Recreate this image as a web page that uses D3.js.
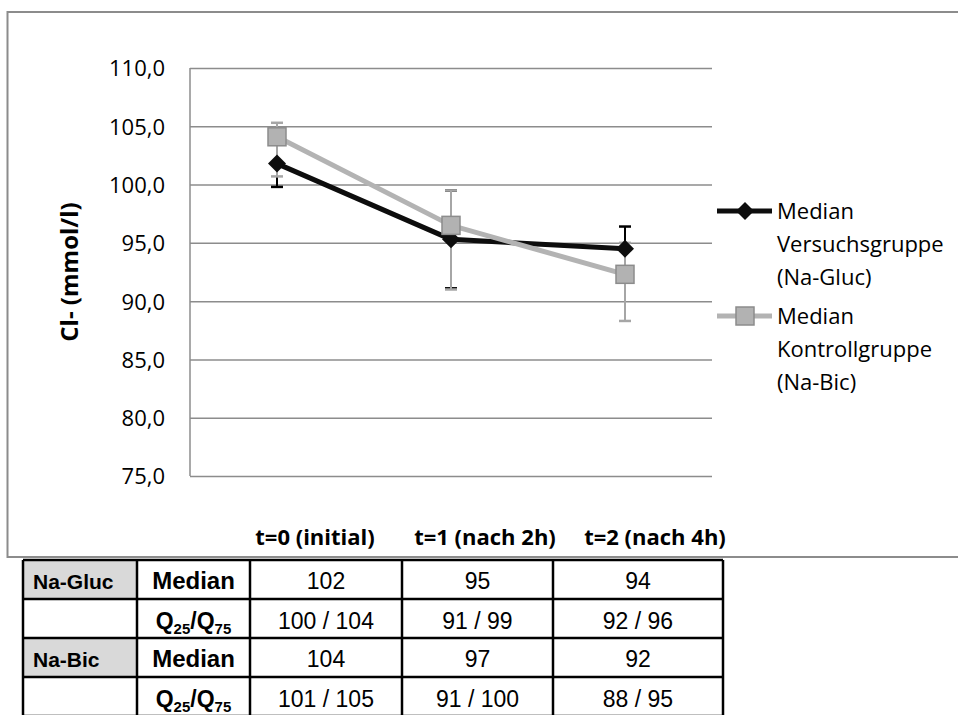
<!DOCTYPE html>
<html lang="de">
<head>
<meta charset="UTF-8">
<title>Cl- (mmol/l)</title>
<style>
  body { margin: 0; background: #fff; }
  svg { display: block; }
  .tick text { font-family: "Open Sans", sans-serif; font-size: 22px; fill: #000; }
  .lbl { font-family: "Open Sans", sans-serif; font-size: 22px; fill: #000; }
  .cell { font-family: "Liberation Sans", Arial, sans-serif; fill: #000; }
</style>
</head>
<body>
<svg width="958" height="715"></svg>
<script src="https://d3js.org/d3.v7.min.js"></script>
<script>
// chart values
const categories = ["t=0 (initial)", "t=1 (nach 2h)", "t=2 (nach 4h)"];
const glucMedian = [101.8, 95.3, 94.5];
const glucQ25 = [99.8, 91.1, 92.0];
const glucQ75 = [104.0, 99.5, 96.4];
const bicMedian = [104.1, 96.5, 92.3];
const bicQ25 = [100.7, 91.0, 88.3];
const bicQ75 = [105.3, 99.5, 95.0];
const yTicks = [75, 80, 85, 90, 95, 100, 105, 110];
const legendLabels = [
  ["Median", "Versuchsgruppe", "(Na-Gluc)"],
  ["Median", "Kontrollgruppe", "(Na-Bic)"]
];

// table values
const tableGroups = ["Na-Gluc", "Na-Bic"];
const tableMedian = [["102", "95", "94"], ["104", "97", "92"]];
const tableQ = [["100 / 104", "91 / 99", "92 / 96"], ["101 / 105", "91 / 100", "88 / 95"]];

const svg = d3.select("svg");
const locale = d3.formatLocale({decimal: ",", thousands: ".", grouping: [3], currency: ["", "€"]});
const fmt = locale.format(".1f");

// outer chart frame (right edge runs off the page)
svg.append("rect")
  .attr("x", 7.5).attr("y", 12)
  .attr("width", 1000).attr("height", 545)
  .attr("fill", "none").attr("stroke", "#8c8c8c").attr("stroke-width", 2);

const plot = {left: 190, right: 712, top: 68, bottom: 476};
const x = d3.scaleBand().domain(categories).range([plot.left, plot.right]);
const y = d3.scaleLinear().domain([75, 110]).range([plot.bottom, plot.top]);
const cx = d => x(d) + x.bandwidth() / 2;

// gridlines + y labels
const yAxis = svg.append("g")
  .attr("transform", `translate(${plot.left},0)`)
  .call(d3.axisLeft(y).tickValues(yTicks).tickFormat(fmt)
        .tickSize(-(plot.right - plot.left)).tickPadding(25));
yAxis.select(".domain").remove();
yAxis.selectAll(".tick line").attr("stroke", "#8c8c8c").attr("stroke-width", 1.5);
yAxis.selectAll(".tick text").attr("dy", "0.36em");

// left axis line
svg.append("line")
  .attr("x1", plot.left).attr("x2", plot.left)
  .attr("y1", plot.top).attr("y2", plot.bottom)
  .attr("stroke", "#8c8c8c").attr("stroke-width", 1.5);

// y title
svg.append("text").attr("class", "lbl")
  .attr("transform", `translate(78,${(plot.top + plot.bottom) / 2}) rotate(-90)`)
  .attr("text-anchor", "middle")
  .style("font-weight", "bold").style("font-size", "24px")
  .text("Cl- (mmol/l)");

// x labels (sit in their own row below the plot)
const xl = d3.scaleBand().domain(categories).range([230, 740]);
svg.append("g").selectAll("text")
  .data(categories).join("text")
  .attr("class", "lbl")
  .attr("x", d => xl(d) + xl.bandwidth() / 2)
  .attr("y", 545)
  .attr("text-anchor", "middle")
  .style("font-weight", "bold")
  .text(d => d);

const series = [
  {med: glucMedian, lo: glucQ25, hi: glucQ75, line: "#0d0d0d", bar: "#000", shape: "diamond"},
  {med: bicMedian, lo: bicQ25, hi: bicQ75, line: "#b3b3b3", bar: "#a6a6a6", shape: "square"}
];

// error bars first
series.forEach(s => {
  const g = svg.append("g").attr("stroke", s.bar).attr("stroke-width", 2);
  categories.forEach((c, i) => {
    g.append("line").attr("x1", cx(c)).attr("x2", cx(c)).attr("y1", y(s.lo[i])).attr("y2", y(s.hi[i]));
    [s.lo[i], s.hi[i]].forEach(v => {
      g.append("line").attr("x1", cx(c) - 6).attr("x2", cx(c) + 6).attr("y1", y(v)).attr("y2", y(v)).attr("stroke-width", 2.5);
    });
  });
});

function marker(g, shape, px, py) {
  if (shape === "diamond") {
    g.append("path")
      .attr("d", `M${px},${py - 9}L${px + 9},${py}L${px},${py + 9}L${px - 9},${py}Z`)
      .attr("fill", "#0d0d0d");
  } else {
    g.append("rect")
      .attr("x", px - 9).attr("y", py - 9).attr("width", 18).attr("height", 18)
      .attr("fill", "#b2b2b2").attr("stroke", "#8c8c8c").attr("stroke-width", 1.5);
  }
}

const line = d3.line().x((d, i) => cx(categories[i])).y(d => y(d));
series.forEach(s => {
  const g = svg.append("g");
  g.append("path").datum(s.med)
    .attr("d", line)
    .attr("fill", "none").attr("stroke", s.line).attr("stroke-width", 5)
    .attr("stroke-linejoin", "round");
  s.med.forEach((v, i) => marker(g, s.shape, cx(categories[i]), y(v)));
});

// legend
const legendY = [211, 316];
series.forEach((s, k) => {
  const g = svg.append("g");
  g.append("line").attr("x1", 717).attr("x2", 772).attr("y1", legendY[k]).attr("y2", legendY[k])
    .attr("stroke", s.line).attr("stroke-width", 5);
  marker(g, s.shape, 745, legendY[k]);
  g.append("text").attr("class", "lbl")
    .attr("x", 777).attr("y", legendY[k])
    .selectAll("tspan").data(legendLabels[k]).join("tspan")
    .attr("x", 777)
    .attr("dy", (d, i) => i === 0 ? "0.36em" : "33px")
    .text(d => d);
});

// data table
const colX = [23, 137, 250, 402, 553, 723];
const rowY = [560, 599, 638, 677, 716];
const tbl = svg.append("g");
[0, 2].forEach(r => {
  tbl.append("rect").attr("x", colX[0]).attr("y", rowY[r]).attr("width", colX[1] - colX[0])
    .attr("height", rowY[r + 1] - rowY[r]).attr("fill", "#d9d9d9");
});
rowY.forEach(yy => tbl.append("line").attr("x1", colX[0]).attr("x2", colX[5]).attr("y1", yy).attr("y2", yy)
  .attr("stroke", "#000").attr("stroke-width", 2.5));
colX.forEach(xx => tbl.append("line").attr("x1", xx).attr("x2", xx).attr("y1", rowY[0]).attr("y2", rowY[4])
  .attr("stroke", "#000").attr("stroke-width", 2.5));

const rowMid = r => (rowY[r] + rowY[r + 1]) / 2;
const colMid = c => (colX[c] + colX[c + 1]) / 2;
tableGroups.forEach((grp, k) => {
  const r0 = k * 2, r1 = k * 2 + 1;
  tbl.append("text").attr("class", "cell")
    .attr("x", colX[0] + 10).attr("y", rowMid(r0) + 9)
    .style("font-size", "21px").style("font-weight", "bold").text(grp);
  tbl.append("text").attr("class", "cell")
    .attr("x", colMid(1)).attr("y", rowMid(r0) + 9).attr("text-anchor", "middle")
    .style("font-size", "24px").style("font-weight", "bold").text("Median");
  const q = tbl.append("text").attr("class", "cell")
    .attr("x", colMid(1)).attr("y", rowMid(r1) + 10).attr("text-anchor", "middle")
    .style("font-size", "23px").style("font-weight", "bold");
  q.append("tspan").text("Q");
  q.append("tspan").attr("dy", 5).style("font-size", "15px").text("25");
  q.append("tspan").attr("dy", -5).text("/Q");
  q.append("tspan").attr("dy", 5).style("font-size", "15px").text("75");
  tableMedian[k].forEach((v, i) => {
    tbl.append("text").attr("class", "cell")
      .attr("x", colMid(i + 2)).attr("y", rowMid(r0) + 9).attr("text-anchor", "middle")
      .style("font-size", "23px").text(v);
  });
  tableQ[k].forEach((v, i) => {
    tbl.append("text").attr("class", "cell")
      .attr("x", colMid(i + 2)).attr("y", rowMid(r1) + 10).attr("text-anchor", "middle")
      .style("font-size", "23px").text(v);
  });
});
</script>
</body>
</html>
